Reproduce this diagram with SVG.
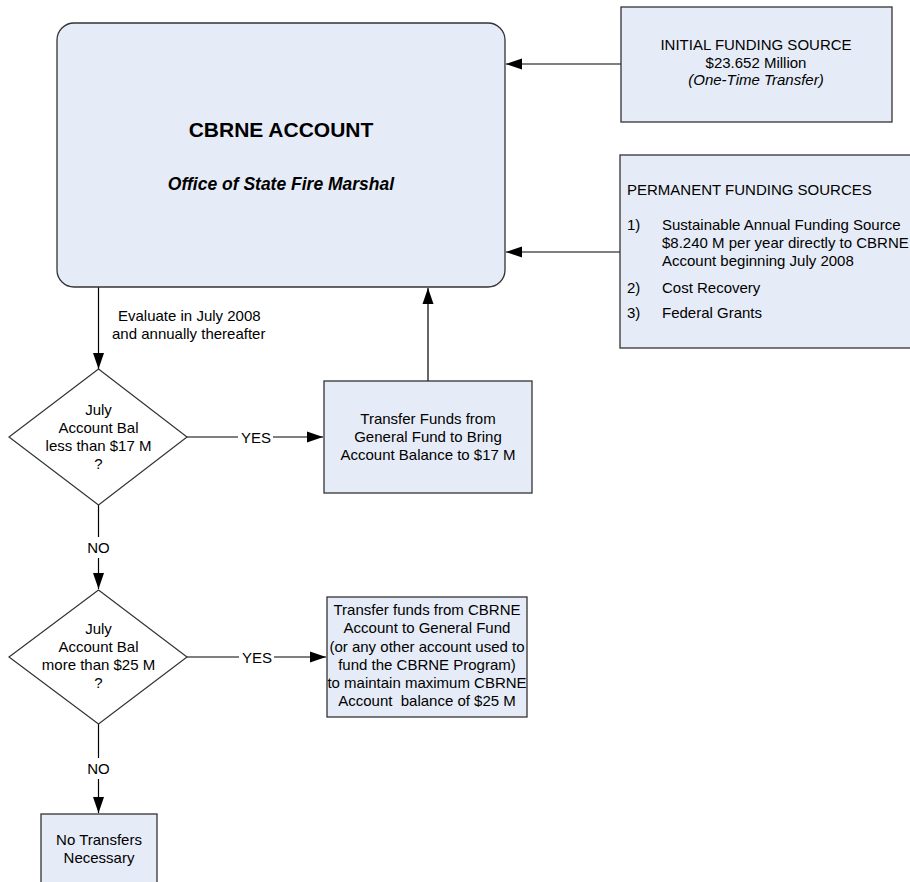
<svg xmlns="http://www.w3.org/2000/svg" width="910" height="882" viewBox="0 0 910 882">
<defs>
<marker id="ah" markerUnits="userSpaceOnUse" markerWidth="17" markerHeight="12" refX="16" refY="6" orient="auto">
<path d="M0,0.5 L16,6 L0,11.5 z" fill="#000"/>
</marker>
<style>
.box{fill:#E6ECF7;stroke:#333;stroke-width:1.3}
.dia{fill:#fff;stroke:#333;stroke-width:1.2}
.ln{fill:none;stroke:#000;stroke-width:1.2}
text{font-family:"Liberation Sans",Arial,sans-serif;font-size:15px;fill:#000}
.c{text-anchor:middle}
.lbl{text-anchor:middle}
</style>
</defs>
<rect width="910" height="882" fill="#fff"/>

<g id="connectors">
<line class="ln" x1="621" y1="64" x2="506" y2="64" marker-end="url(#ah)"/>
<line class="ln" x1="620" y1="252" x2="506" y2="252" marker-end="url(#ah)"/>
<line class="ln" x1="98.5" y1="287" x2="98.5" y2="369" marker-end="url(#ah)"/>
<line class="ln" x1="428" y1="381" x2="428" y2="288" marker-end="url(#ah)"/>
<line class="ln" x1="187" y1="437" x2="238" y2="437"/>
<line class="ln" x1="273" y1="437" x2="323" y2="437" marker-end="url(#ah)"/>
<text class="lbl" x="256" y="442.5">YES</text>
<line class="ln" x1="98.5" y1="505" x2="98.5" y2="537"/>
<line class="ln" x1="98.5" y1="558" x2="98.5" y2="589" marker-end="url(#ah)"/>
<text class="lbl" x="98.5" y="552.5">NO</text>
<line class="ln" x1="187" y1="657" x2="239" y2="657"/>
<line class="ln" x1="274" y1="657" x2="326" y2="657" marker-end="url(#ah)"/>
<text class="lbl" x="257" y="662.5">YES</text>
<line class="ln" x1="98.5" y1="724" x2="98.5" y2="758"/>
<line class="ln" x1="98.5" y1="779" x2="98.5" y2="813" marker-end="url(#ah)"/>
<text class="lbl" x="98.5" y="774">NO</text>
<text x="118" y="320.5">Evaluate in July 2008</text>
<text x="112" y="339">and annually thereafter</text>
</g>

<g id="cbrne-account">
<rect class="box" x="57" y="23" width="448" height="264" rx="17" ry="17"/>
<text class="c" x="281" y="137" style="font-size:21px;font-weight:bold">CBRNE ACCOUNT</text>
<text class="c" x="281" y="190" style="font-size:17.5px;font-weight:bold;font-style:italic">Office of State Fire Marshal</text>
</g>

<g id="initial-funding">
<rect class="box" x="621" y="7" width="271" height="115"/>
<text class="c" x="756" y="50">INITIAL FUNDING SOURCE</text>
<text class="c" x="756" y="67.5">$23.652 Million</text>
<text class="c" x="756" y="85" style="font-style:italic">(One-Time Transfer)</text>
</g>

<g id="permanent-funding">
<rect class="box" x="620" y="155" width="300" height="193"/>
<text x="627" y="195">PERMANENT FUNDING SOURCES</text>
<text x="627" y="229.5">1)</text>
<text x="662" y="229.5">Sustainable Annual Funding Source</text>
<text x="662" y="247.5">$8.240 M per year directly to CBRNE</text>
<text x="662" y="265.5">Account beginning July 2008</text>
<text x="627" y="292.5">2)</text>
<text x="662" y="292.5">Cost Recovery</text>
<text x="627" y="318">3)</text>
<text x="662" y="318">Federal Grants</text>
</g>

<g id="decision-17">
<polygon class="dia" points="98.5,369 187,437 98.5,505 9,437"/>
<text class="c" x="98.5" y="415">July</text>
<text class="c" x="98.5" y="433">Account Bal</text>
<text class="c" x="98.5" y="451">less than $17 M</text>
<text class="c" x="98.5" y="469">?</text>
</g>

<g id="transfer-to-17">
<rect class="box" x="324" y="381" width="208" height="112"/>
<text class="c" x="428" y="424">Transfer Funds from</text>
<text class="c" x="428" y="442">General Fund to Bring</text>
<text class="c" x="428" y="460">Account Balance to $17 M</text>
</g>

<g id="decision-25">
<polygon class="dia" points="98.5,590 187,657 98.5,724 9,657"/>
<text class="c" x="98.5" y="634">July</text>
<text class="c" x="98.5" y="652">Account Bal</text>
<text class="c" x="98.5" y="670">more than $25 M</text>
<text class="c" x="98.5" y="688">?</text>
</g>

<g id="transfer-to-general">
<rect class="box" x="327" y="597" width="200" height="120"/>
<text class="c" x="427" y="615">Transfer funds from CBRNE</text>
<text class="c" x="427" y="633">Account to General Fund</text>
<text class="c" x="427" y="651.5">(or any other account used to</text>
<text class="c" x="427" y="670">fund the CBRNE Program)</text>
<text class="c" x="427" y="688">to maintain maximum CBRNE</text>
<text class="c" x="427" y="706" xml:space="preserve">Account  balance of $25 M</text>
</g>

<g id="no-transfers">
<rect class="box" x="41" y="814" width="116" height="80"/>
<text class="c" x="99" y="845">No Transfers</text>
<text class="c" x="99" y="863">Necessary</text>
</g>
</svg>
